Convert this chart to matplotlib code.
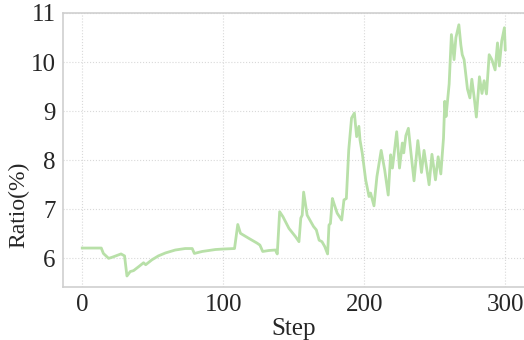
import matplotlib
matplotlib.use("Agg")
import matplotlib.pyplot as plt

# step / ratio samples along the training run
steps = [0, 13.5, 15, 18.7, 21, 27.5, 30, 31.7, 34, 36.4, 40, 43.5, 45, 49.4,
         54, 59, 66, 73, 78, 79.5, 85, 94.5, 100, 108, 110.3, 112.2, 118, 124,
         126, 128, 132.3, 137, 138.3, 140, 142.3, 146.6, 151.3, 153.7, 155, 156,
         157, 159.5, 164, 166, 168, 170, 172, 174, 175, 176, 177.4, 178.5, 180.8,
         184, 185.6, 187.3, 189, 191, 193, 194.6, 196.2, 197, 198.6, 201, 203.4,
         204.5, 206.9, 209, 212, 214.5, 217, 218.7, 220, 223, 225, 227, 228,
         229.5, 231.3, 233, 235.3, 238, 240.6, 242.4, 246, 248, 250.5, 252.4,
         254.3, 256.2, 257.1, 258, 260.2, 261.8, 263.7, 265, 267.1, 268.5, 269.5,
         270.8, 273.2, 274.9, 276.3, 278, 279.5, 281.7, 283.5, 285, 286.7, 288.6,
         290.5, 292.8, 294.5, 295.8, 297.5, 299.4, 300]
ratio = [6.21, 6.21, 6.10, 6.00, 6.02, 6.09, 6.05, 5.64, 5.73, 5.75, 5.83, 5.91,
         5.87, 5.97, 6.05, 6.11, 6.17, 6.20, 6.20, 6.10, 6.14, 6.18, 6.19, 6.20,
         6.69, 6.51, 6.41, 6.31, 6.27, 6.14, 6.16, 6.17, 6.09, 6.95, 6.85, 6.61,
         6.44, 6.34, 6.82, 6.88, 7.35, 6.88, 6.65, 6.58, 6.37, 6.34, 6.24, 6.09,
         6.68, 6.71, 7.22, 7.12, 6.92, 6.78, 7.19, 7.22, 8.21, 8.86, 8.96, 8.48,
         8.69, 8.41, 8.14, 7.60, 7.26, 7.33, 7.07, 7.67, 8.20, 7.80, 7.29, 8.11,
         7.84, 8.58, 7.84, 8.35, 8.15, 8.50, 8.65, 8.18, 7.58, 8.40, 7.75, 8.20,
         7.50, 8.12, 7.60, 8.07, 7.72, 8.45, 9.20, 8.89, 9.55, 10.56, 10.05,
         10.50, 10.76, 10.35, 10.15, 10.05, 9.45, 9.27, 9.65, 9.27, 8.88, 9.70,
         9.36, 9.62, 9.35, 10.15, 10.05, 9.84, 10.39, 9.92, 10.43, 10.70, 10.25]

xticks = [0, 100, 200, 300]
yticks = [6, 7, 8, 9, 10, 11]

plt.rcParams['font.family'] = ['Liberation Serif', 'DejaVu Serif']
text_col = '#262626'

fig = plt.figure(figsize=(5.24, 3.40), dpi=100)
ax = fig.add_axes([62.5 / 524, 52.7 / 340, 462.5 / 524, 274.6 / 340])

ax.plot(steps, ratio, color='#b8e0a8', linewidth=2.0, solid_joinstyle='round')

ax.set_xlim(-14, 314)
ax.set_ylim(5.41, 11.006)
ax.set_xticks(xticks)
ax.set_yticks(yticks)
ax.tick_params(length=0, pad=5, labelsize=18, colors=text_col)
ax.set_xlabel('Step', fontsize=18, color=text_col, labelpad=1)
ax.set_ylabel('Ratio(%)', fontsize=17, color=text_col)
ax.yaxis.set_label_coords(-0.071, 0.30)

ax.grid(True, linestyle=':', linewidth=0.8, color='#d9d9d9')
ax.set_axisbelow(True)
for s in ax.spines.values():
    s.set_color('#cfcfcf')
    s.set_linewidth(1.2)

fig.savefig('out.png', dpi=100, facecolor='white')
